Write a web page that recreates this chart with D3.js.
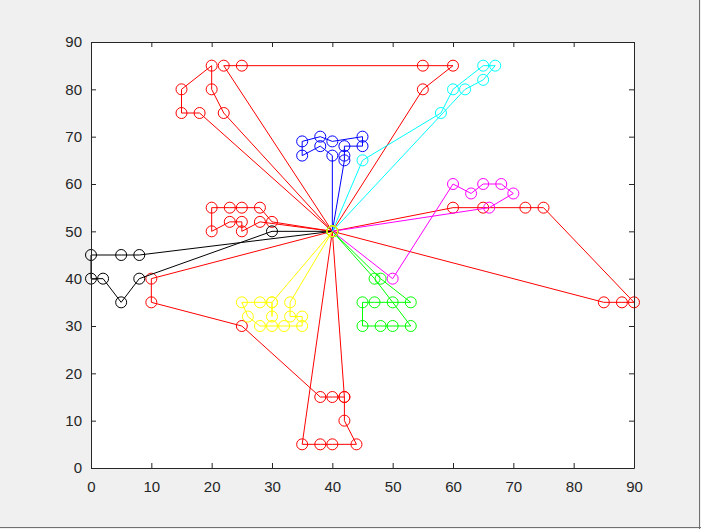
<!DOCTYPE html>
<html><head><meta charset="utf-8">
<script src="https://cdn.jsdelivr.net/npm/d3@7/dist/d3.min.js"></script>
<style>body{margin:0;background:#f0f0f0}svg{display:block}</style>
</head><body>
<script>
const xTicks=[0,10,20,30,40,50,60,70,80,90];
const yTicks=[0,10,20,30,40,50,60,70,80,90];

const blackPts=[[40,50],[8,45],[5,45],[0,45],[0,40],[2,40],[5,35],[8,40],[30,50],[40,50]];
const bluePts=[[40,50],[40,66],[38,68],[35,66],[35,69],[38,70],[40,69],[45,70],[45,68],[42,68],[42,66],[42,65],[40,50]];
const cyanPts=[[40,50],[45,65],[58,75],[60,80],[65,85],[67,85],[65,82],[62,80],[40,50]];
const magentaPts=[[40,50],[50,40],[60,60],[63,58],[65,60],[68,60],[70,58],[66,55],[40,50]];
const greenPts=[[40,50],[48,40],[53,35],[50,35],[47,35],[45,35],[45,30],[48,30],[50,30],[53,30],[47,40],[40,50]];
const yellowPts=[[40,50],[33,35],[33,32],[35,32],[35,30],[32,30],[30,30],[28,30],[26,32],[25,35],[28,35],[30,35],[30,32],[30,35],[40,50]];
const redPts1=[[40,50],[18,75],[15,75],[15,80],[20,85],[20,80],[22,75],[40,50]];
const redPts2=[[40,50],[22,85],[25,85],[55,85],[60,85],[55,80],[40,50]];
const redPts3=[[40,50],[28,52],[25,50],[25,52],[23,52],[20,50],[20,55],[23,55],[25,55],[28,55],[30,52],[40,50]];
const redPts4=[[40,50],[10,40],[10,35],[25,30],[38,15],[40,15],[42,15],[40,50]];
const redPts5=[[40,50],[35,5],[38,5],[40,5],[44,5],[42,10],[42,15]];
const redPts6=[[40,50],[60,55],[65,55],[72,55],[75,55],[90,35],[88,35],[85,35],[40,50]];

const series=[
  {pts:redPts1,color:'#ff0000'},
  {pts:redPts2,color:'#ff0000'},
  {pts:redPts3,color:'#ff0000'},
  {pts:redPts4,color:'#ff0000'},
  {pts:redPts5,color:'#ff0000'},
  {pts:redPts6,color:'#ff0000'},
  {pts:blackPts,color:'#000000'},
  {pts:bluePts,color:'#0000ff'},
  {pts:cyanPts,color:'#00ffff'},
  {pts:magentaPts,color:'#ff00ff'},
  {pts:greenPts,color:'#00ff00'},
  {pts:yellowPts,color:'#ffff00'}
];

const W=701,H=529;
const svg=d3.select('body').append('svg').attr('width',W).attr('height',H);
svg.append('rect').attr('width',W).attr('height',H).attr('fill','#f0f0f0');

const x=d3.scaleLinear().domain([0,90]).range([91,634]);
const y=d3.scaleLinear().domain([0,90]).range([468,42]);

svg.append('rect').attr('x',x(0)).attr('y',y(90)).attr('width',x(90)-x(0)).attr('height',y(0)-y(90)).attr('fill','#ffffff');

const line=d3.line().x(d=>x(d[0])).y(d=>y(d[1]));
const g=svg.append('g');
series.forEach(s=>{
  g.append('path').attr('d',line(s.pts)).attr('fill','none').attr('stroke',s.color).attr('stroke-width',1);
  g.selectAll(null).data(s.pts).enter().append('circle')
    .attr('cx',d=>x(d[0])).attr('cy',d=>y(d[1])).attr('r',5.5)
    .attr('fill','none').attr('stroke',s.color).attr('stroke-width',1);
});

const axColor='#262626';
function style(sel){
  sel.selectAll('path').attr('stroke',axColor);
  sel.selectAll('line').attr('stroke',axColor);
  sel.selectAll('text').attr('fill',axColor).style('font-family','Arial, "Liberation Sans", sans-serif').style('font-size','15px');
}
const xb=svg.append('g').attr('transform',`translate(0,${y(0)})`)
  .call(d3.axisBottom(x).tickValues(xTicks).tickFormat(d3.format('d')).tickSizeInner(-5).tickSizeOuter(0).tickPadding(13));
style(xb);
const yl=svg.append('g').attr('transform',`translate(${x(0)},0)`)
  .call(d3.axisLeft(y).tickValues(yTicks).tickFormat(d3.format('d')).tickSizeInner(-5).tickSizeOuter(0).tickPadding(9));
style(yl);
const xt=svg.append('g').attr('transform',`translate(0,${y(90)})`)
  .call(d3.axisTop(x).tickValues(xTicks).tickFormat('').tickSizeInner(-5).tickSizeOuter(0));
style(xt);
const yr=svg.append('g').attr('transform',`translate(${x(90)},0)`)
  .call(d3.axisRight(y).tickValues(yTicks).tickFormat('').tickSizeInner(-5).tickSizeOuter(0));
style(yr);

svg.append('line').attr('x1',0).attr('x2',W).attr('y1',527.5).attr('y2',527.5).attr('stroke','#707070');
svg.append('line').attr('x1',699.5).attr('x2',699.5).attr('y1',0).attr('y2',H).attr('stroke','#707070');
</script>
</body></html>
